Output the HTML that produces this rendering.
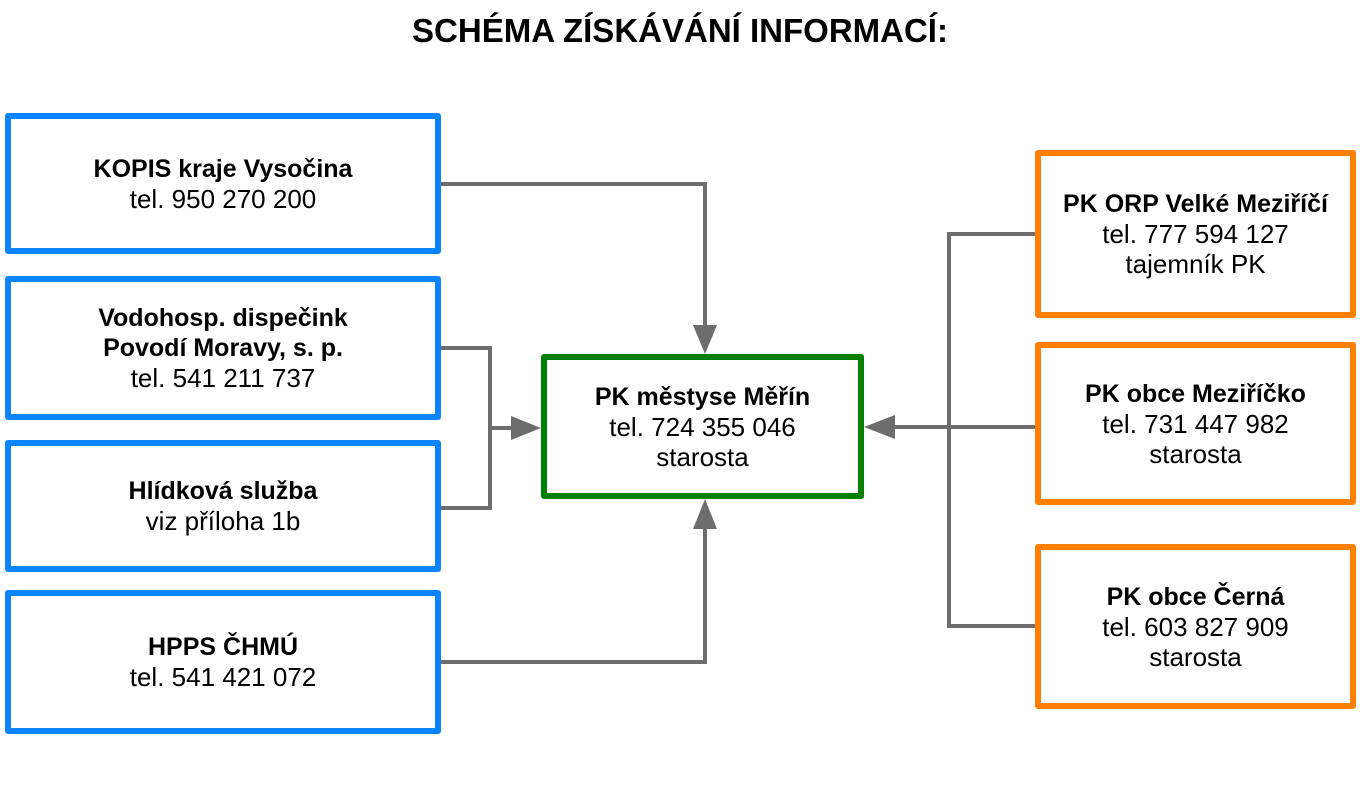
<!DOCTYPE html>
<html><head><meta charset="utf-8"><style>
body{margin:0;width:1360px;height:787px;background:#fff;position:relative;font-family:"Liberation Sans",sans-serif;overflow:hidden}
.b{position:absolute;box-sizing:border-box;border:6px solid;border-radius:3px;display:flex;flex-direction:column;justify-content:center;align-items:center;text-align:center;font-size:26px;line-height:30px;color:#000;white-space:nowrap}
.bl{border-color:#0a84ff}.or{border-color:#ff8000}.gr{border-color:#008000}
b{font-weight:bold;font-size:25px}
h1{position:absolute;top:12px;left:0;width:1360px;text-align:center;margin:0;font-size:33px;font-weight:bold}
svg{position:absolute;left:0;top:0}
</style></head><body>
<h1>SCHÉMA ZÍSKÁVÁNÍ INFORMACÍ:</h1>
<svg width="1360" height="787"><g stroke="#6d6d6d" stroke-width="4" fill="none">
<polyline points="441,184 705,184 705,330"/>
<polyline points="441,348 490,348 490,508 441,508"/>
<line x1="490" y1="428" x2="515" y2="428"/>
<polyline points="441,662 705,662 705,525"/>
<polyline points="1035,234 949,234 949,626 1035,626"/>
<line x1="1035" y1="427" x2="890" y2="427"/>
</g><g fill="#6d6d6d">
<polygon points="693,325 717,325 705,354"/>
<polygon points="511,416 511,440 541,428"/>
<polygon points="693,529 717,529 705,499"/>
<polygon points="895,415 895,439 864,427"/>
</g></svg>
<div class="b bl" style="left:5px;top:113px;width:436px;height:141px"><b>KOPIS kraje Vysočina</b>tel. 950 270 200</div>
<div class="b bl" style="left:5px;top:276px;width:436px;height:144px"><b>Vodohosp. dispečink</b><b>Povodí Moravy, s. p.</b>tel. 541 211 737</div>
<div class="b bl" style="left:5px;top:440px;width:436px;height:132px"><b>Hlídková služba</b>viz příloha 1b</div>
<div class="b bl" style="left:5px;top:590px;width:436px;height:144px"><b>HPPS ČHMÚ</b>tel. 541 421 072</div>
<div class="b gr" style="left:541px;top:354px;width:323px;height:145px"><b>PK městyse Měřín</b>tel. 724 355 046<br>starosta</div>
<div class="b or" style="left:1035px;top:150px;width:321px;height:168px"><b>PK ORP Velké Meziříčí</b>tel. 777 594 127<br>tajemník PK</div>
<div class="b or" style="left:1035px;top:342px;width:321px;height:163px"><b>PK obce Meziříčko</b>tel. 731 447 982<br>starosta</div>
<div class="b or" style="left:1035px;top:544px;width:321px;height:165px"><b>PK obce Černá</b>tel. 603 827 909<br>starosta</div>
</body></html>
